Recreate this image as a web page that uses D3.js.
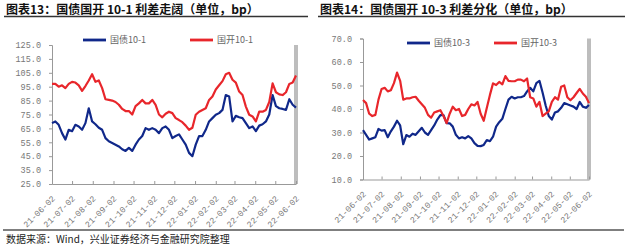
<!DOCTYPE html>
<html lang="zh">
<head>
<meta charset="UTF-8">
<title>国债国开利差</title>
<script src="https://cdn.jsdelivr.net/npm/d3@7/dist/d3.min.js"></script>
<style>
    body { margin: 0; background: #fff; }
    svg { display: block; }
    .title { font-family: "Noto Sans CJK SC"; font-weight: 700; font-size: 12px; fill: #111; }
    .tick text { font-family: "Liberation Mono", monospace; font-size: 8.5px; fill: #777; }
    .legend text { font-family: "Noto Sans CJK SC"; font-size: 9px; fill: #666; }
    .source { font-family: "Noto Sans CJK SC"; font-size: 10px; fill: #222; }
</style>
</head>
<body>
<svg id="chart" width="640" height="248"></svg>
<script>
// dates shared by both charts
const dates = [
    "2021-06-02","2021-06-07","2021-06-12","2021-06-17","2021-06-22","2021-06-27",
    "2021-07-02","2021-07-07","2021-07-12","2021-07-17","2021-07-22","2021-07-27",
    "2021-08-01","2021-08-06","2021-08-11","2021-08-16","2021-08-21","2021-08-26","2021-08-31",
    "2021-09-05","2021-09-10","2021-09-15","2021-09-20","2021-09-25","2021-09-30",
    "2021-10-05","2021-10-10","2021-10-15","2021-10-20","2021-10-25","2021-10-30",
    "2021-11-04","2021-11-09","2021-11-14","2021-11-19","2021-11-24","2021-11-29",
    "2021-12-04","2021-12-09","2021-12-14","2021-12-19","2021-12-24","2021-12-29",
    "2022-01-03","2022-01-08","2022-01-13","2022-01-18","2022-01-23","2022-01-28",
    "2022-02-02","2022-02-07","2022-02-12","2022-02-17","2022-02-22","2022-02-27",
    "2022-03-04","2022-03-09","2022-03-14","2022-03-19","2022-03-24","2022-03-29",
    "2022-04-03","2022-04-08","2022-04-13","2022-04-18","2022-04-23","2022-04-28",
    "2022-05-03","2022-05-08","2022-05-13","2022-05-18","2022-05-23","2022-05-28",
    "2022-06-02"
];

// 国债10-1
const gz101 = [68.8, 70, 67.6, 61.6, 57, 64, 63, 67.6, 66.4, 64,
    68.8, 79.5, 70, 68, 65.5, 64, 58, 55.7, 54.5, 53.3,
    52, 50, 48.8, 51, 48.8, 53.3, 57, 59.5, 65.2, 64,
    65.2, 64, 61.6, 65.2, 66.4, 64, 58, 59.5, 60.7, 57,
    53.3, 47.4, 45, 53.3, 59.5, 59.5, 64, 70, 72.4, 74.8,
    76, 78.3, 89, 88, 70, 74, 73, 72.4, 68.8, 65.2,
    66.4, 63, 67, 68, 70, 75, 89, 81, 79.5, 79,
    78.3, 86, 82, 80];
// 国开10-1
const gk101 = [97, 97, 95, 96, 94, 97, 98.5, 98, 96, 92,
    95.5, 99.5, 104, 98.5, 99.5, 94, 86, 85.5, 85, 84,
    82, 79, 77.5, 77.5, 75, 81, 83, 85.5, 83, 83,
    85.5, 82, 75, 73, 75.5, 77, 76, 72.4, 71, 69.5,
    67, 64, 65.5, 74.8, 77, 78.3, 79.5, 85.5, 88, 93,
    96, 99, 104, 105, 100, 98, 91.5, 89, 80.7, 74.8,
    73.6, 70, 77, 77, 78.3, 84, 97.4, 91, 89.5, 89,
    91, 97, 98, 103];
// 国债10-3
const gz103 = [31, 29, 27, 27.5, 28, 31.5, 30.8, 31, 28, 30.5,
    32.5, 35, 33, 25, 28.9, 28.2, 29.5, 29, 30.5, 32,
    30, 29, 31, 33, 35.5, 37.4, 37.4, 34, 33.9, 32.5,
    29, 27.5, 28, 27.5, 28.5, 27.5, 25.5, 24.3, 24.2, 24.7,
    26.8, 26.3, 28.2, 32.5, 34.4, 35.8, 40, 44, 45.2, 44.5,
    45, 45, 45.5, 47.5, 49, 47.5, 51, 52, 47, 41.5,
    37, 35.5, 38.5, 39, 40.5, 42.5, 42, 41.5, 41, 40,
    43, 41, 40.5, 41.7];
// 国开10-3
const gk103 = [43.8, 42.5, 38, 37, 37.5, 44, 48.5, 49, 47.5, 48,
    51, 55.5, 52, 44, 44.5, 44.5, 45, 45.2, 43.5, 42,
    40.5, 37.5, 36.3, 38.5, 39, 39.5, 37, 34, 38, 41,
    39.5, 40, 37, 37.5, 40, 42, 41.5, 43, 38, 35,
    40.5, 46, 50.9, 50.2, 51.5, 50.5, 54, 52, 51.8, 51.8,
    52.5, 52.5, 51.8, 53, 45, 44.5, 41, 43, 37, 38,
    39, 43, 45, 44, 49.5, 50, 45, 43.7, 45, 46.8,
    48.6, 46.6, 45.2, 42.5];

const tickLabels = ["21-06-02","21-07-02","21-08-02","21-09-02","21-10-02","21-11-02","21-12-02",
    "22-01-02","22-02-02","22-03-02","22-04-02","22-05-02","22-06-02"];
const yTicksLeft = [25, 35, 45, 55, 65, 75, 85, 95, 105, 115, 125];
const yTicksRight = [10, 20, 30, 40, 50, 60, 70];

const blue = "#10288a";
const red = "#e8262b";

const svg = d3.select("#chart");
const parseDate = d3.timeParse("%Y-%m-%d");
const parseTick = d3.timeParse("%y-%m-%d");
const dateObjs = dates.map(parseDate);
const tickDates = tickLabels.map(parseTick);

function drawPanel(cfg) {
    const g = svg.append("g");

    const x = d3.scaleTime()
        .domain([dateObjs[0], dateObjs[dateObjs.length - 1]])
        .range([cfg.left, cfg.right]);
    const y = d3.scaleLinear()
        .domain([cfg.yTicks[0], cfg.yTicks[cfg.yTicks.length - 1]])
        .range([cfg.bottom, cfg.top]);

    // grey marker bar at last date
    g.append("rect")
        .attr("x", x(dateObjs[dateObjs.length - 1]) - 2)
        .attr("y", y.range()[1])
        .attr("width", 4)
        .attr("height", y.range()[0] - y.range()[1])
        .attr("fill", "#bdbdbd");

    const yAxis = d3.axisLeft(y)
        .tickValues(cfg.yTicks)
        .tickFormat(d3.format(".1f"))
        .tickSize(3)
        .tickPadding(8);
    const gy = g.append("g")
        .attr("transform", `translate(${cfg.left},0)`)
        .call(yAxis);

    const xAxis = d3.axisBottom(x)
        .tickValues(tickDates)
        .tickFormat(d3.timeFormat("%y-%m-%d"))
        .tickSizeInner(-3)
        .tickSizeOuter(0);
    const gx = g.append("g")
        .attr("transform", `translate(0,${cfg.bottom})`)
        .call(xAxis);
    gx.selectAll(".tick text")
        .attr("x", 0).attr("y", 0).attr("dy", "0.35em")
        .attr("transform", "translate(1,13) rotate(-45)")
        .style("text-anchor", "end");

    [gx, gy].forEach(a => {
        a.select(".domain").attr("stroke", "#999");
        a.selectAll(".tick line").attr("stroke", "#999");
    });

    const line = d3.line()
        .x((d, i) => x(dateObjs[i]))
        .y(d => y(d));

    cfg.series.forEach(s => {
        g.append("path")
            .datum(s.values)
            .attr("fill", "none")
            .attr("stroke", s.color)
            .attr("stroke-width", 2.2)
            .attr("stroke-linejoin", "round")
            .attr("d", line);
    });

    // legend
    const lg = g.append("g").attr("class", "legend");
    cfg.series.forEach(s => {
        lg.append("line")
            .attr("x1", s.lx).attr("x2", s.lx + 23)
            .attr("y1", cfg.legendY).attr("y2", cfg.legendY)
            .attr("stroke", s.color).attr("stroke-width", 2.8);
        lg.append("text")
            .attr("x", s.lx + 27).attr("y", cfg.legendY + 3.2)
            .text(s.name);
    });

    // title
    svg.append("text").attr("class", "title")
        .attr("x", cfg.titleX).attr("y", 13.5)
        .text(cfg.title);
    svg.append("line")
        .attr("x1", cfg.titleX - 2).attr("x2", cfg.titleLineEnd)
        .attr("y1", 16.5).attr("y2", 16.5)
        .attr("stroke", "#333").attr("stroke-width", 1.3);
}

drawPanel({
    left: 52, right: 296, top: 45, bottom: 184,
    yTicks: yTicksLeft,
    legendY: 40,
    title: "图表13：国债国开 10-1 利差走阔（单位，bp）",
    titleX: 6, titleLineEnd: 308,
    series: [
        { name: "国债10-1", values: gz101, color: blue, lx: 83 },
        { name: "国开10-1", values: gk101, color: red, lx: 190 }
    ]
});

drawPanel({
    left: 363, right: 589, top: 38.5, bottom: 179.5,
    yTicks: yTicksRight,
    legendY: 43,
    title: "图表14：国债国开 10-3 利差分化（单位，bp）",
    titleX: 320, titleLineEnd: 625,
    series: [
        { name: "国债10-3", values: gz103, color: blue, lx: 407 },
        { name: "国开10-3", values: gk103, color: red, lx: 494 }
    ]
});

svg.append("line")
    .attr("x1", 3).attr("x2", 624)
    .attr("y1", 230).attr("y2", 230)
    .attr("stroke", "#555").attr("stroke-width", 1.5);

svg.append("text").attr("class", "source")
    .attr("x", 6).attr("y", 243)
    .text("数据来源：Wind，兴业证券经济与金融研究院整理");
</script>
</body>
</html>
